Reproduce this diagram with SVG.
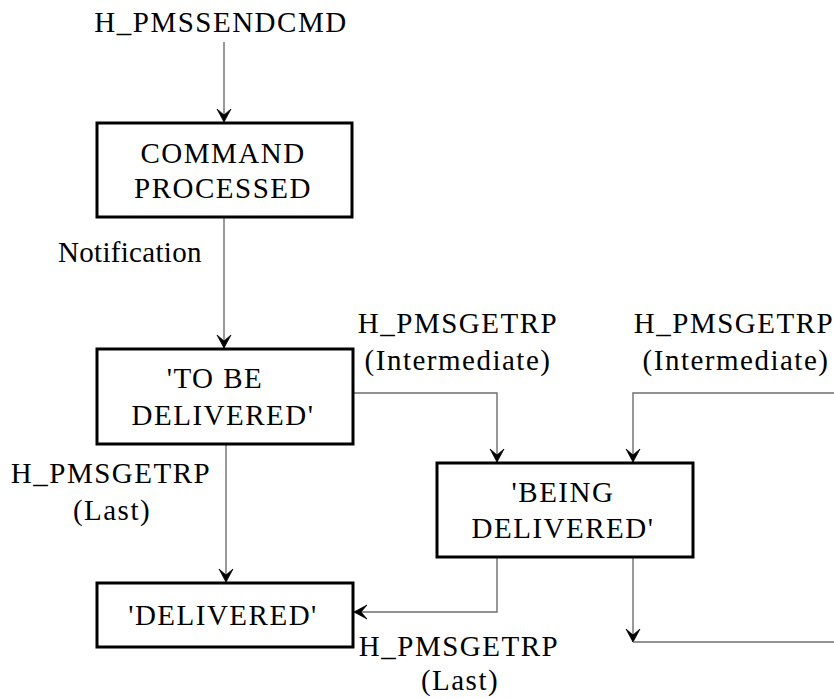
<svg xmlns="http://www.w3.org/2000/svg" width="834" height="699" viewBox="0 0 834 699">
  <style>
    .box { fill: #ffffff; stroke: #000000; stroke-width: 3; }
    .txt { font-family: "Liberation Serif", "Times New Roman", serif; font-size: 29px; fill: #000000; letter-spacing: 1.5px; }
    .mid { text-anchor: middle; }
    .edge { fill: none; stroke: #6e6e6e; stroke-width: 1.4; }
    .arrow { marker-end: url(#head); }
  </style>
  <defs>
    <marker id="head" markerUnits="userSpaceOnUse" viewBox="-15 -8 16 16" markerWidth="16" markerHeight="16" refX="0" refY="0" orient="auto" overflow="visible">
      <path d="M0,0 L-13,-7 L-7,0 L-13,7 Z" fill="#000000" stroke="#000000" stroke-width="0.8" stroke-linejoin="miter"/>
    </marker>
  </defs>

  <!-- transitions -->
  <g id="connectors">
    <path class="edge arrow" d="M224,42 V122"/>
    <path class="edge arrow" d="M224,217 V348"/>
    <path class="edge arrow" d="M353,393 H497 V462"/>
    <path class="edge arrow" d="M834,393 H633 V462"/>
    <path class="edge arrow" d="M226,444 V582"/>
    <path class="edge arrow" d="M497,557 V612 H354"/>
    <path class="edge arrow" d="M633,557 V642"/>
    <path class="edge" d="M633,642 H834"/>
  </g>

  <!-- transition labels -->
  <g id="labels">
    <text class="txt mid" x="221" y="32">H_PMSSENDCMD</text>
    <text class="txt" x="58" y="262" style="letter-spacing:0.3px">Notification</text>
    <text class="txt mid" x="458" y="333">H_PMSGETRP</text>
    <text class="txt mid" x="458" y="370">(Intermediate)</text>
    <text class="txt mid" x="734" y="333">H_PMSGETRP</text>
    <text class="txt mid" x="736" y="370">(Intermediate)</text>
    <text class="txt mid" x="111" y="483">H_PMSGETRP</text>
    <text class="txt mid" x="112" y="520">(Last)</text>
    <text class="txt mid" x="459" y="656">H_PMSGETRP</text>
    <text class="txt mid" x="460" y="690">(Last)</text>
  </g>

  <!-- states -->
  <g id="command-processed">
    <rect class="box" x="97" y="123" width="255" height="94"/>
    <text class="txt mid" x="223" y="163">COMMAND</text>
    <text class="txt mid" x="223" y="198">PROCESSED</text>
  </g>
  <g id="to-be-delivered">
    <rect class="box" x="97" y="349" width="256" height="95"/>
    <text class="txt mid" x="215" y="388">'TO BE</text>
    <text class="txt mid" x="223" y="425">DELIVERED'</text>
  </g>
  <g id="being-delivered">
    <rect class="box" x="437" y="463" width="256" height="94"/>
    <text class="txt mid" x="563" y="502">'BEING</text>
    <text class="txt mid" x="563" y="538">DELIVERED'</text>
  </g>
  <g id="delivered">
    <rect class="box" x="97" y="583" width="256" height="64"/>
    <text class="txt mid" x="223" y="625">'DELIVERED'</text>
  </g>
</svg>
